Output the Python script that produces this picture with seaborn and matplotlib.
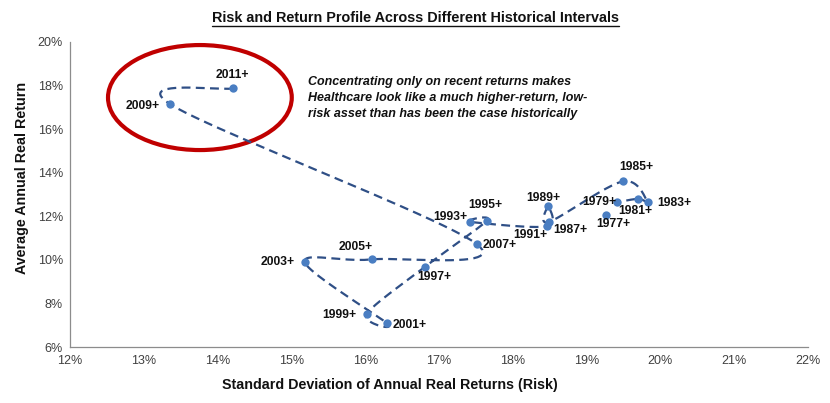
import numpy as np
import pandas as pd
import matplotlib
matplotlib.use("Agg")
import matplotlib.pyplot as plt
import seaborn as sns
from matplotlib.patches import Ellipse
from matplotlib.lines import Line2D
from matplotlib.ticker import FuncFormatter, MultipleLocator

# ---- data ----
labels = ["2011+", "2009+", "2007+", "2005+", "2003+", "2001+", "1999+", "1997+",
          "1995+", "1993+", "1991+", "1989+", "1987+", "1985+", "1983+", "1981+",
          "1979+", "1977+"]
risk = [14.21, 13.36, 17.51, 16.09, 15.18, 16.30, 16.02, 16.81,
        17.65, 17.42, 18.46, 18.48, 18.49, 19.49, 19.83, 19.70,
        19.41, 19.26]
ret = [17.87, 17.14, 10.73, 10.02, 9.90, 7.08, 7.52, 9.68,
       11.80, 11.74, 11.54, 12.48, 11.74, 13.60, 12.64, 12.80,
       12.64, 12.06]
connected = [True] * 17 + [False]

title = "Risk and Return Profile Across Different Historical Intervals"
xlabel = "Standard Deviation of Annual Real Returns (Risk)"
ylabel = "Average Annual Real Return"
note = ("Concentrating only on recent returns makes\n"
        "Healthcare look like a much higher-return, low-\n"
        "risk asset than has been the case historically")

# label offsets (pixels) - placement style only
label_offsets = [(-1, 13), (-28, -2), (23, -1), (-16, 12), (-27, 0), (22, -2), (-27, -1),
                 (9, -10), (-2, 16), (-20, 5), (-16, -9), (-5, 8), (21, -8), (14, 14),
                 (26, -1), (-3, -12), (-18, 0), (8, -9)]

df = pd.DataFrame({"label": labels, "risk": risk, "ret": ret, "connected": connected})


def smooth(xs, ys, n=24):
    P = np.column_stack([xs, ys]).astype(float)
    out = []
    t = np.linspace(0, 1, n)[:, None]
    for i in range(len(P) - 1):
        p0 = P[i - 1] if i > 0 else P[i]
        p1, p2 = P[i], P[i + 1]
        p3 = P[i + 2] if i + 2 < len(P) else P[i + 1]
        c1 = p1 + (p2 - p0) / 6.0
        c2 = p2 - (p3 - p1) / 6.0
        seg = (1 - t) ** 3 * p1 + 3 * (1 - t) ** 2 * t * c1 + 3 * (1 - t) * t ** 2 * c2 + t ** 3 * p2
        out.append(seg if i == 0 else seg[1:])
    S = np.vstack(out)
    return S[:, 0], S[:, 1]


sns.set_theme(style="white")
ARIAL = ["Liberation Sans", "DejaVu Sans"]
plt.rcParams["font.family"] = ARIAL

fig = plt.figure(figsize=(8.3, 4.03), dpi=100)
ax = fig.add_axes([70 / 830, 1 - 347 / 403, (808 - 70) / 830, (347 - 42) / 403])

line_df = df[df["connected"]]
cx, cy = smooth(line_df["risk"].values, line_df["ret"].values)
sns.lineplot(x=cx, y=cy, sort=False, estimator=None, ax=ax, color="#2F4F86",
             linewidth=1.6, zorder=2)
ax.lines[-1].set_dashes((4.0, 2.4))

sns.scatterplot(data=df, x="risk", y="ret", ax=ax, color="#4A7EC2", s=36,
                edgecolor="#4A7EC2", linewidth=0, zorder=3)

for lab, x, y, (dx, dy) in zip(df["label"], df["risk"], df["ret"], label_offsets):
    ax.annotate(lab, (x, y), xytext=(dx, dy), textcoords="offset pixels",
                ha="center", va="center", fontsize=8.7, fontweight="bold",
                color="#111111", family=ARIAL, zorder=4)

ax.add_patch(Ellipse((13.76, 17.45), 2.49, 4.82, fill=False, edgecolor="#C00000",
                     linewidth=3, zorder=1))

ax.text(15.22, 18.45, note, ha="left", va="top",
        fontsize=9.0, fontweight="bold", fontstyle="italic", color="#111111",
        family=ARIAL, linespacing=1.45)

ax.set_xlim(12, 22)
ax.set_ylim(6, 20)
ax.xaxis.set_major_locator(MultipleLocator(1))
ax.yaxis.set_major_locator(MultipleLocator(2))
ax.xaxis.set_major_formatter(FuncFormatter(lambda v, p: f"{v:.0f}%"))
ax.yaxis.set_major_formatter(FuncFormatter(lambda v, p: f"{v:.0f}%"))
for s in ["top", "right"]:
    ax.spines[s].set_visible(False)
for s in ["left", "bottom"]:
    ax.spines[s].set_color("#8C8C8C")
    ax.spines[s].set_linewidth(0.9)
ax.tick_params(axis="both", direction="out", length=3, width=0.8, color="#8C8C8C",
               labelsize=9, labelcolor="#404040", pad=2)
ax.tick_params(axis="x", pad=3)
ax.set_facecolor("none")
ax.grid(False)

ax.set_xlabel("")
ax.set_ylabel("")
fig.text(390 / 830, 1 - 385 / 403, xlabel, ha="center", va="center", fontsize=10.3,
         fontweight="bold", color="#111111")
fig.text(22 / 830, 1 - 178 / 403, ylabel, ha="center", va="center", rotation=90,
         fontsize=10.3, fontweight="bold", color="#111111")
t = fig.text(415 / 830, 1 - 18 / 403, title, ha="center", va="center", fontsize=10.4,
             fontweight="bold", color="#111111")

fig.canvas.draw()
bb = t.get_window_extent(fig.canvas.get_renderer())
W, H = fig.bbox.width, fig.bbox.height
uy = (bb.y0 - 1) / H
fig.add_artist(Line2D([bb.x0 / W, bb.x1 / W], [uy, uy], color="#111111", linewidth=1.0))

fig.savefig("out.png", dpi=100, facecolor="white")
